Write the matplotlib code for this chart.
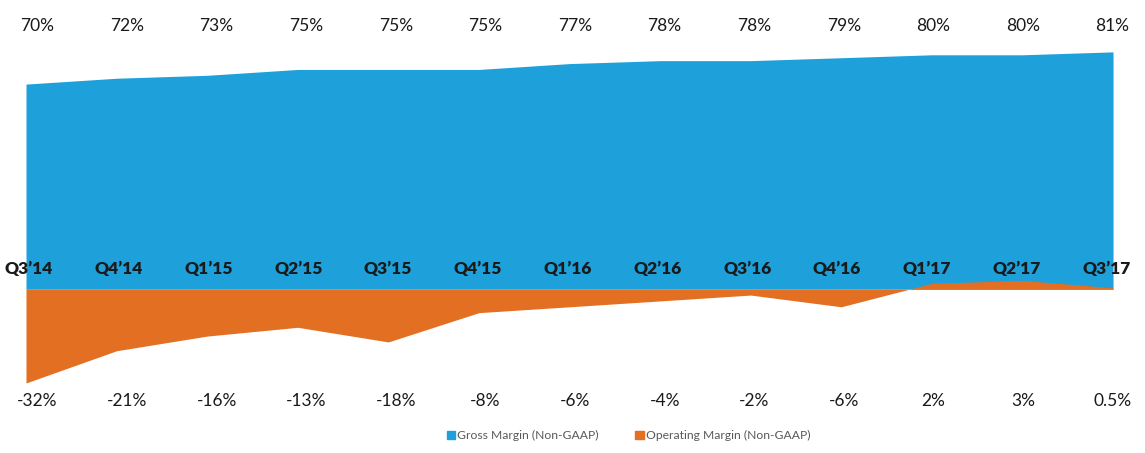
import matplotlib.pyplot as plt
from matplotlib.patches import Patch
import numpy as np

quarters = ["Q3\u201914", "Q4\u201914", "Q1\u201915", "Q2\u201915", "Q3\u201915", "Q4\u201915", "Q1\u201916",
            "Q2\u201916", "Q3\u201916", "Q4\u201916", "Q1\u201917", "Q2\u201917", "Q3\u201917"]
gross_margin = [70, 72, 73, 75, 75, 75, 77, 78, 78, 79, 80, 80, 81]
operating_margin = [-32, -21, -16, -13, -18, -8, -6, -4, -2, -6, 2, 3, 0.5]
gross_labels = ["70%", "72%", "73%", "75%", "75%", "75%", "77%", "78%", "78%", "79%", "80%", "80%", "81%"]
op_labels = ["-32%", "-21%", "-16%", "-13%", "-18%", "-8%", "-6%", "-4%", "-2%", "-6%", "2%", "3%", "0.5%"]

blue = '#1EA1DB'
orange = '#E36F22'
plt.rcParams['font.family'] = ['Lato', 'DejaVu Sans']

fig = plt.figure(figsize=(11.45, 4.53), dpi=100)
ax = fig.add_axes([0, 0, 1, 1])
x = np.arange(len(quarters))

ax.fill_between(x, 0, gross_margin, color=blue, lw=0)
ax.fill_between(x, 0, operating_margin, color=orange, lw=0)

ax.set_xlim(-0.287, 12.353)
ax.set_ylim(-55.9, 98.7)
ax.axis('off')

# labels sit on a slightly different grid than the data points
lab_top = x * 0.989 + 0.127
lab_cat = x * 0.991 + 0.033
for i in range(len(quarters)):
    ax.text(lab_top[i], 89.8, gross_labels[i], ha='center', va='center', fontsize=12.5, color='#1a1a1a')
    ax.text(lab_top[i], -38.0, op_labels[i], ha='center', va='center', fontsize=12.5, color='#1a1a1a')
    ax.text(lab_cat[i], 7.0, quarters[i], ha='center', va='center', fontsize=12.5,
            fontweight='heavy', color='#1a1a1a')

handles = [Patch(color=blue, label='Gross Margin (Non-GAAP)'),
           Patch(color=orange, label='Operating Margin (Non-GAAP)')]
fig.legend(handles=handles, loc='center', bbox_to_anchor=(0.549, 0.038), ncol=2, frameon=False,
           fontsize=8.7, handlelength=0.7, handleheight=0.7, handletextpad=0.2, columnspacing=3,
           labelcolor='#595959')

fig.savefig('out.png', dpi=100)
